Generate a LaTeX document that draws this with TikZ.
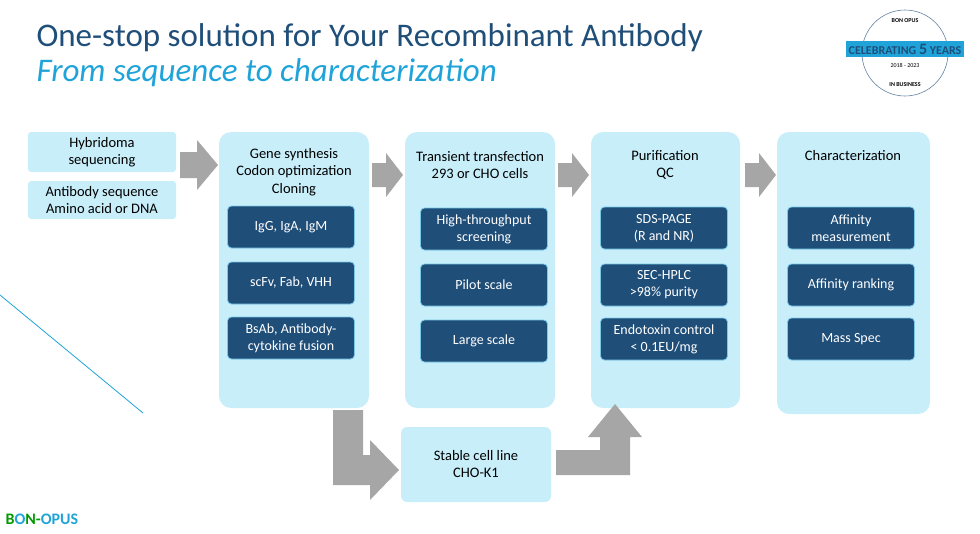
\documentclass[tikz,border=0pt]{standalone}
\usepackage{fontspec}
\setmainfont{Carlito}
\definecolor{navy}{HTML}{1F4E79}
\definecolor{sky}{HTML}{1FA3D8}
\definecolor{pale}{HTML}{C8EEFA}
\definecolor{arrowgray}{HTML}{A6A6A6}
\tikzset{
  colbox/.style={fill=pale, draw=none, rounded corners=12pt},
  inbox/.style={fill=pale, draw=none, rounded corners=3pt},
  chip/.style={fill=navy, draw=sky!60!white, line width=0.8pt, rounded corners=4pt,
    text=white, align=center, font=\fontsize{14}{17}\selectfont},
  head/.style={align=center, font=\fontsize{14.5}{17.5}\selectfont, text=black},
  bigarrow/.style={fill=arrowgray, draw=none}
}
\begin{document}
\begin{tikzpicture}[x=1pt, y=-1pt]
  \useasboundingbox (0,0) rectangle (980,533);
  % title
  \node[anchor=west, text=navy, font=\fontsize{33}{36}\selectfont] (title) at (33,38) {One-stop solution for Your Recombinant Antibody};
  \node[anchor=west, text=sky, font=\fontsize{33}{36}\selectfont\itshape] (subtitle) at (33,73) {From sequence to characterization};
  \draw[sky, line width=0.8pt] (0,295) -- (143,413);
  % inputs
  \fill[inbox] (28,132) rectangle (176,172);
  \node[head] (hyb) at (102,152) {Hybridoma\\sequencing};
  \fill[inbox] (28,181) rectangle (176,219);
  \node[head] (seq) at (102,200) {Antibody sequence\\Amino acid or DNA};
  % columns
  \fill[colbox] (219,132) rectangle (369,408);
  \fill[colbox] (405,132) rectangle (555,408);
  \fill[colbox] (591,132) rectangle (740,408);
  \fill[colbox] (777,132) rectangle (930,414);
  \node[head] (gene) at (294,172) {Gene synthesis\\Codon optimization\\Cloning};
  \node[head] (trans) at (480,165) {Transient transfection\\293 or CHO cells};
  \node[head] (puri) at (665,165) {Purification\\QC};
  \node[head] (char) at (853,156) {Characterization};
  % chips
  \foreach \cx/\y/\txt in {291/227/{IgG, IgA, IgM}, 291/283/{scFv, Fab, VHH}, 291/338/{BsAb, Antibody-\\cytokine fusion},
    484/229/{High-throughput\\screening}, 484/285/{Pilot scale}, 484/341/{Large scale},
    664/228/{SDS-PAGE\\(R and NR)}, 664/285/{SEC-HPLC\\>98\% purity}, 664/339/{Endotoxin control\\< 0.1EU/mg},
    851/228/{Affinity\\measurement}, 851/285/{Affinity ranking}, 851/339/{Mass Spec}}{
    \node[chip, minimum width=127pt, minimum height=42pt] at (\cx,\y) {\txt};
  }
  % stable line
  \fill[inbox, rounded corners=6pt] (401,427) rectangle (551,502);
  \node[head] (stable) at (476,464) {Stable cell line\\CHO-K1};
  % arrows
  \fill[bigarrow] (180,152) -- (197,152) -- (197,140) -- (218,165) -- (197,190) -- (197,178) -- (180,178) -- cycle;
  \foreach \x in {372,558,745}{
    \fill[bigarrow] (\x,163) -- (\x+14,163) -- (\x+14,153) -- (\x+31,175) -- (\x+14,197) -- (\x+14,187) -- (\x,187) -- cycle;
  }
  \fill[bigarrow] (333,410) -- (363,410) -- (363,455) -- (370,455) -- (370,440) -- (399,470) -- (370,500) -- (370,485) -- (333,485) -- cycle;
  \fill[bigarrow] (556,450) -- (600,450) -- (600,437) -- (588,437) -- (615,404) -- (642,437) -- (630,437) -- (630,475) -- (556,475) -- cycle;
  % logos
  \node[draw=navy!70, circle, minimum size=86pt, line width=0.6pt] (badge) at (905,53) {};
  \node[fill=sky, text=navy, font=\bfseries\fontsize{12}{13}\selectfont, inner sep=3pt] (cele) at (905,49) {CELEBRATING {\fontsize{16}{16}\selectfont 5} YEARS};
  \node[font=\fontsize{6}{7}\selectfont] (yrs) at (905,65) {2018 - 2023};
  \node[font=\fontsize{6}{7}\selectfont\bfseries] (bo) at (905,21) {BON OPUS};
  \node[font=\fontsize{6}{7}\selectfont\bfseries] (inb) at (905,85) {IN BUSINESS};
  \node[anchor=west, text=green!60!black, font=\bfseries\fontsize{16}{17}\selectfont] (logo) at (2,519) {B{\color{sky}O}N-{\color{sky}OPUS}};
\end{tikzpicture}
\end{document}
